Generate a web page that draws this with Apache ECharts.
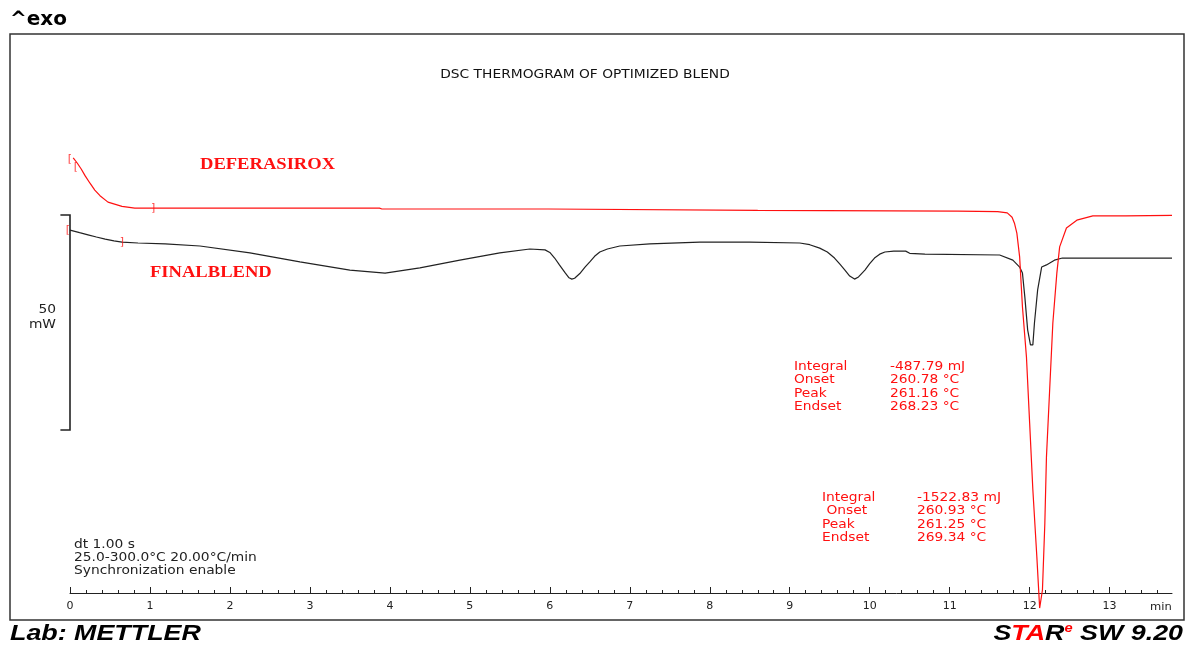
<!DOCTYPE html>
<html><head><meta charset="utf-8">
<script src="https://cdn.jsdelivr.net/npm/echarts@6/dist/echarts.min.js"></script>
<style>html,body{margin:0;padding:0;background:#fff}#c{width:1187px;height:645px}</style>
</head><body><div id="c"></div>
<script>
// ---- data (time in min, heat flow in mW, arbitrary offset) ----
const redTime  = [0.04, 0.09, 0.14, 0.19, 0.25, 0.31, 0.375, 0.475, 0.65, 0.81, 1.03, 3.87, 3.9, 5.98, 6.0, 8.6, 8.62, 11.1, 11.6, 11.72, 11.78, 11.81, 11.84, 11.875, 11.91, 11.96, 12.0, 12.04, 12.09, 12.125, 12.16, 12.19, 12.21, 12.25, 12.29, 12.34, 12.375, 12.46, 12.59, 12.79, 13.2, 13.78];
const redValue = [101.2, 100.0, 98.6, 97.0, 95.3, 93.7, 92.4, 90.9, 89.9, 89.5, 89.5, 89.5, 89.3, 89.3, 89.0, 89.0, 88.8, 88.8, 88.7, 88.4, 87.4, 86.0, 83.7, 78.1, 66.5, 54.9, 39.5, 24.0, 8.4, -3.5, 0.7, 16.3, 31.6, 47.2, 62.8, 74.4, 80.5, 84.9, 86.7, 87.7, 87.7, 87.8];

const blackTime  = [0, 0.12, 0.225, 0.33, 0.44, 0.55, 0.65, 0.85, 1.19, 1.625, 2.25, 2.875, 3.5, 3.94, 4.375, 4.875, 5.375, 5.75, 5.94, 6.0, 6.06, 6.12, 6.19, 6.24, 6.275, 6.31, 6.375, 6.44, 6.5, 6.56, 6.625, 6.72, 6.875, 7.25, 7.875, 8.5, 9.125, 9.25, 9.375, 9.47, 9.56, 9.63, 9.69, 9.75, 9.81, 9.86, 9.94, 10.0, 10.06, 10.125, 10.19, 10.3, 10.45, 10.5, 10.69, 11.625, 11.79, 11.875, 11.91, 11.94, 11.975, 12.01, 12.04, 12.06, 12.1, 12.15, 12.21, 12.31, 12.41, 13.78];
const blackValue = [84.4, 83.8, 83.3, 82.8, 82.3, 81.9, 81.6, 81.4, 81.2, 80.7, 79.1, 77.0, 75.1, 74.4, 75.6, 77.4, 79.1, 80.0, 79.8, 79.2, 77.9, 76.3, 74.5, 73.3, 73.0, 73.2, 74.3, 75.8, 77.0, 78.3, 79.3, 80.0, 80.7, 81.2, 81.6, 81.6, 81.4, 81.0, 80.2, 79.3, 77.9, 76.4, 75.1, 73.7, 73.0, 73.5, 75.1, 76.6, 77.9, 78.8, 79.3, 79.5, 79.5, 79.0, 78.8, 78.6, 77.4, 75.8, 74.4, 68.8, 61.2, 57.7, 57.7, 62.8, 70.5, 75.8, 76.3, 77.4, 77.9, 77.9];

// scale bar: at time 0, from 37.9 mW to 87.9 mW (50 mW), caps extending 0.12 min left
const scaleBar = [0, 37.9, 87.9, 0.12];

const bracketTime  = [0, 0.075, 1.04, -0.025, 0.65];
const bracketValue = [100.9, 99.1, 89.5, 84.4, 81.6];
const bracketText  = ['[', '[', ']', '[', ']'];

const xTicks = [0,1,2,3,4,5,6,7,8,9,10,11,12,13];

const chartTitle = 'DSC THERMOGRAM OF OPTIMIZED BLEND';
const seriesNames = ['DEFERASIROX', 'FINALBLEND'];
const ann1Labels = ['Integral', 'Onset', 'Peak', 'Endset'];
const ann1Values = ['-487.79 mJ', '260.78 °C', '261.16 °C', '268.23 °C'];
const ann2Labels = ['Integral', ' Onset', 'Peak', 'Endset'];
const ann2Values = ['-1522.83 mJ', '260.93 °C', '261.25 °C', '269.34 °C'];
const infoLines  = ['dt 1.00 s', '25.0-300.0°C 20.00°C/min', 'Synchronization enable'];

// ---- build ----
const zip = (a, b) => a.map((v, i) => [v, b[i]]);
const RED = '#ff1010';
const SANS = '"DejaVu Sans", Verdana, sans-serif';

function txt(x, y, text, font, fill, align, sx) {
  return { type: 'text', x: x, y: y, scaleX: sx || 1.15, z: 10,
    style: { text: text, font: font, fill: fill, textAlign: align || 'left', textVerticalAlign: 'middle' } };
}
const graphics = [];
graphics.push({ type: 'rect', z: -5, shape: { x: 10, y: 34, width: 1174, height: 586 },
  style: { fill: 'none', stroke: '#333', lineWidth: 1.5 } });
graphics.push({ type: 'text', x: 10, y: 20, z: 10,
  style: { text: '^exo', font: 'bold 20px ' + SANS, fill: '#000', textVerticalAlign: 'middle' } });
graphics.push(txt(585, 75, chartTitle, '12px ' + SANS, '#111', 'center'));
graphics.push(txt(200, 165, seriesNames[0], 'bold 16px "Liberation Serif", "Times New Roman", serif', RED, 'left', 1.16));
graphics.push(txt(150, 273, seriesNames[1], 'bold 16px "Liberation Serif", "Times New Roman", serif', RED, 'left', 1.16));
graphics.push(txt(56, 310, '50', '12px ' + SANS, '#222', 'right'));
graphics.push(txt(56, 325, 'mW', '12px ' + SANS, '#222', 'right'));
ann1Labels.forEach((t, i) => {
  graphics.push(txt(794, 367 + i * 13.3, t, '12px ' + SANS, RED));
  graphics.push(txt(890, 367 + i * 13.3, ann1Values[i], '12px ' + SANS, RED));
});
ann2Labels.forEach((t, i) => {
  graphics.push(txt(822, 498 + i * 13.3, t, '12px ' + SANS, RED));
  graphics.push(txt(917, 498 + i * 13.3, ann2Values[i], '12px ' + SANS, RED));
});
infoLines.forEach((t, i) => graphics.push(txt(74, 545 + i * 13, t, '12px ' + SANS, '#222')));
graphics.push(txt(1150, 607, 'min', '11px ' + SANS, '#222', 'left', 1.05));
graphics.push({ type: 'text', x: 10, y: 634, scaleX: 1.22, z: 10,
  style: { text: 'Lab: METTLER', font: 'italic bold 22px "Liberation Sans", Arial, sans-serif', fill: '#000', textVerticalAlign: 'middle' } });
graphics.push({ type: 'text', x: 1183, y: 634, scaleX: 1.22, z: 10,
  style: { text: '{k|S}{r|TA}{k|R}{e|e}{k| SW 9.20}', textAlign: 'right', textVerticalAlign: 'middle',
    rich: {
      k: { font: 'italic bold 22px "Liberation Sans", Arial, sans-serif', fill: '#000' },
      r: { font: 'italic bold 22px "Liberation Sans", Arial, sans-serif', fill: '#ff0000' },
      e: { font: 'italic bold 12px "Liberation Sans", Arial, sans-serif', fill: '#ff0000', verticalAlign: 'top', padding: [0, 0, 10, 0] }
    } } });

const option = {
  animation: false,
  backgroundColor: '#fff',
  grid: { left: 70, right: 15, top: 34, bottom: 52, containLabel: false },
  xAxis: {
    type: 'value', min: 0, max: 13.78, interval: 1,
    axisLine: { show: true, lineStyle: { color: '#222', width: 1 } },
    axisTick: { show: true, inside: true, length: 6, lineStyle: { color: '#222' }, customValues: xTicks },
    minorTick: { show: true, splitNumber: 5, length: 3, lineStyle: { color: '#222' } },
    axisLabel: { show: true, customValues: xTicks, margin: 8, color: '#222', fontSize: 11, fontFamily: SANS },
    splitLine: { show: false }
  },
  yAxis: { type: 'value', min: 0, max: 130, show: false, splitLine: { show: false } },
  series: [
    { name: seriesNames[0], type: 'line', data: zip(redTime, redValue), showSymbol: false, symbol: 'none', clip: false,
      lineStyle: { color: RED, width: 1.2 }, z: 3 },
    { name: seriesNames[1], type: 'line', data: zip(blackTime, blackValue), showSymbol: false, symbol: 'none', clip: false,
      lineStyle: { color: '#222', width: 1.2 }, z: 2 },
    { name: 'scale', type: 'custom', clip: false, z: 1, data: [scaleBar],
      renderItem: function (params, api) {
        const x = api.value(0), lo = api.value(1), hi = api.value(2), cap = api.value(3);
        const pTop = api.coord([x, hi]), pBot = api.coord([x, lo]);
        const capTop = api.coord([x - cap, hi]), capBot = api.coord([x - cap, lo]);
        return { type: 'polyline', silent: true,
          shape: { points: [capTop, pTop, pBot, capBot] },
          style: { stroke: '#222', lineWidth: 1.6, fill: 'none' } };
      } },
    { name: 'limits', type: 'scatter', data: zip(bracketTime, bracketValue), symbolSize: 1, clip: false,
      itemStyle: { color: 'rgba(0,0,0,0)' },
      label: { show: true, position: 'inside', formatter: p => bracketText[p.dataIndex], color: RED, fontSize: 11, fontFamily: SANS },
      z: 4 }
  ],
  graphic: graphics
};
const chart = echarts.init(document.getElementById('c'), null, { renderer: 'canvas' });
chart.setOption(option);
</script>
</body></html>
